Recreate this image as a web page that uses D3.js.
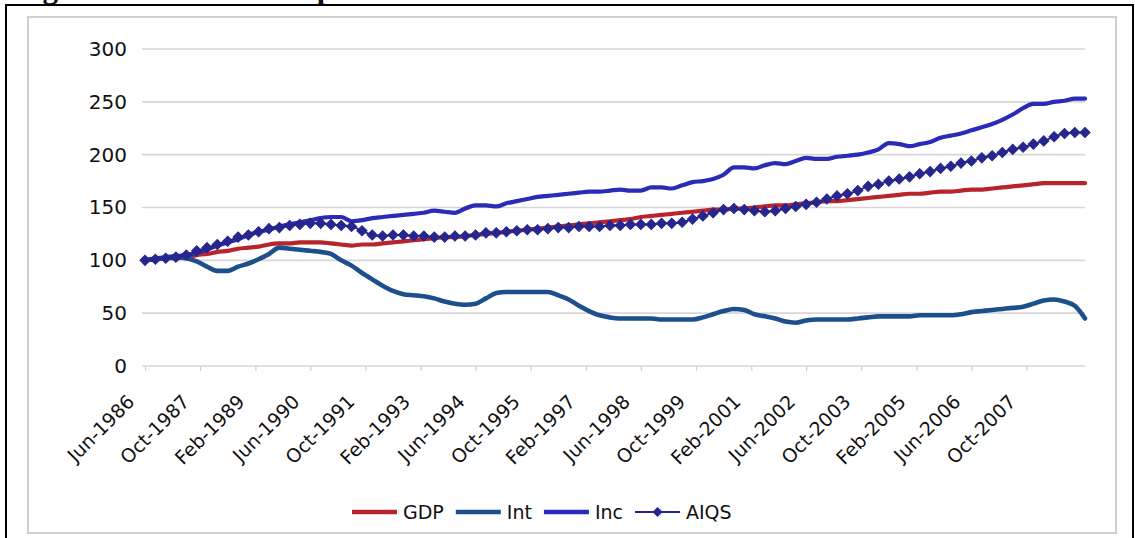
<!DOCTYPE html>
<html>
<head>
<meta charset="utf-8">
<script src="https://cdn.jsdelivr.net/npm/d3@7"></script>
<style>
  html, body { margin: 0; padding: 0; background: #fff; }
  svg { display: block; }
  text { font-family: "DejaVu Sans", "Open Sans", sans-serif; fill: #111; }
</style>
</head>
<body>
<svg id="chart" width="1135" height="538"></svg>
<script>
// Quarterly index series, June 1986 = 100
const firstQuarter = "Jun-1986";

const gdp = [
  100, 101, 102, 102, 103, 105, 106, 108, 109, 111,
  112, 113, 115, 116, 116, 117, 117, 117, 116, 115,
  114, 115, 115, 116, 117, 118, 119, 120, 121, 122,
  122, 123, 124, 125, 126, 127, 128, 129, 130, 131,
  132, 133, 134, 135, 136, 137, 138, 139, 141, 142,
  143, 144, 145, 146, 147, 148, 148, 149, 149, 150,
  151, 152, 152, 153, 154, 155, 156, 156, 157, 158,
  159, 160, 161, 162, 163, 163, 164, 165, 165, 166,
  167, 167, 168, 169, 170, 171, 172, 173, 173, 173,
  173, 173
];

const intRate = [
  100, 101, 102, 103, 102,  99,  94,  90,  90,  94,
   97, 101, 106, 112, 111, 110, 109, 108, 106, 100,
   95,  88,  82,  76,  71,  68,  67,  66,  64,  61,
   59,  58,  59,  64,  69,  70,  70,  70,  70,  70,
   67,  63,  57,  52,  48,  46,  45,  45,  45,  45,
   44,  44,  44,  44,  46,  49,  52,  54,  53,  49,
   47,  45,  42,  41,  43,  44,  44,  44,  44,  45,
   46,  47,  47,  47,  47,  48,  48,  48,  48,  49,
   51,  52,  53,  54,  55,  56,  59,  62,  63,  61,
   57,  45
];

const inc = [
  100, 102, 103, 104, 105, 107, 110, 114, 117, 120,
  124, 127, 129, 132, 134, 136, 138, 140, 141, 141,
  137, 138, 140, 141, 142, 143, 144, 145, 147, 146,
  145, 149, 152, 152, 151, 154, 156, 158, 160, 161,
  162, 163, 164, 165, 165, 166, 167, 166, 166, 169,
  169, 168, 171, 174, 175, 177, 181, 188, 188, 187,
  190, 192, 191, 194, 197, 196, 196, 198, 199, 200,
  202, 205, 211, 210, 208, 210, 212, 216, 218, 220,
  223, 226, 229, 233, 238, 244, 248, 248, 250, 251,
  253, 253
];

const aiqs = [
  100, 101, 102, 103, 105, 109, 112, 115, 118, 122,
  124, 127, 130, 131, 133, 134, 135, 135, 134, 133,
  132, 128, 124, 123, 124, 124, 123, 123, 122, 122,
  123, 123, 124, 126, 126, 127, 128, 129, 129, 130,
  131, 131, 132, 132, 132, 133, 133, 134, 134, 134,
  135, 135, 136, 139, 142, 145, 148, 149, 148, 147,
  146, 147, 149, 151, 153, 155, 158, 161, 163, 166,
  170, 172, 175, 177, 179, 182, 184, 187, 189, 192,
  194, 197, 199, 202, 205, 207, 210, 213, 217, 220,
  221, 221
];

const seriesNames = ["GDP", "Int", "Inc", "AIQS"];
const seriesColors = ["#b8242c", "#1d4f8c", "#2b2bb8", "#26268e"];
const yTicks = [0, 50, 100, 150, 200, 250, 300];
const xTickLabels = [
  "Jun-1986", "Oct-1987", "Feb-1989", "Jun-1990", "Oct-1991", "Feb-1993",
  "Jun-1994", "Oct-1995", "Feb-1997", "Jun-1998", "Oct-1999", "Feb-2001",
  "Jun-2002", "Oct-2003", "Feb-2005", "Jun-2006", "Oct-2007"
];
const figureTitle = "Figure 10: Indices comparison";

const parseMonth = d3.timeParse("%b-%Y");
const start = parseMonth(firstQuarter);
const dates = gdp.map((_, i) => d3.timeMonth.offset(start, 3 * i));

const svg = d3.select("#chart");

// Figure caption sitting above the frame (only its descenders fall inside the page)
svg.append("text")
  .attr("x", 15).attr("y", -2)
  .style("font-family", '"Liberation Serif", "DejaVu Serif", serif')
  .style("font-weight", "bold")
  .style("font-size", "31px")
  .attr("fill", "#000")
  .text(figureTitle);

// Outer frame and chart box
svg.append("rect")
  .attr("x", 6).attr("y", 5).attr("width", 1127).attr("height", 540)
  .attr("fill", "none").attr("stroke", "#000").attr("stroke-width", 2);
svg.append("rect")
  .attr("x", 28).attr("y", 17).attr("width", 1088).attr("height", 516)
  .attr("fill", "#fff").attr("stroke", "#cfcfcf").attr("stroke-width", 2);

const plot = { left: 145, right: 1085, top: 49, bottom: 366 };

const x = d3.scaleTime()
  .domain([dates[0], dates[dates.length - 1]])
  .range([plot.left, plot.right]);

const y = d3.scaleLinear()
  .domain([0, 300])
  .range([plot.bottom, plot.top]);

// Horizontal gridlines
svg.append("g")
  .selectAll("line")
  .data(yTicks)
  .join("line")
  .attr("x1", plot.left - 3).attr("x2", plot.right)
  .attr("y1", d => y(d)).attr("y2", d => y(d))
  .attr("stroke", "#d6d6d6").attr("stroke-width", 1.6);

// Y axis labels
const yAxis = d3.axisLeft(y).tickValues(yTicks).tickSize(0).tickPadding(18);
svg.append("g")
  .attr("transform", `translate(${plot.left},0)`)
  .call(yAxis)
  .call(g => g.select(".domain").remove())
  .call(g => g.selectAll("text")
    .style("font-family", '"DejaVu Sans", sans-serif')
    .style("font-size", "20px")
    .attr("fill", "#111"));

// X axis: date ticks every 16 months, rotated labels
const xTickDates = xTickLabels.map(parseMonth);
const xAxis = d3.axisBottom(x)
  .tickValues(xTickDates)
  .tickSize(5)
  .tickFormat((d, i) => xTickLabels[i]);
svg.append("g")
  .attr("transform", `translate(0,${plot.bottom})`)
  .call(xAxis)
  .call(g => g.select(".domain").remove())
  .call(g => g.selectAll(".tick line").attr("stroke", "#cfcfcf").attr("stroke-width", 1.2))
  .call(g => g.selectAll("text")
    .style("font-family", '"DejaVu Sans", sans-serif')
    .style("font-size", "19px")
    .attr("fill", "#111")
    .attr("text-anchor", "end")
    .attr("dy", null)
    .attr("y", 0)
    .attr("transform", "translate(-10,37) rotate(-45)"));

// Series lines
const series = [gdp, intRate, inc, aiqs];
const widths = [4.2, 4.6, 4.2, 2];
const line = d3.line()
  .x((d, i) => x(dates[i]))
  .y(d => y(d))
  .curve(d3.curveMonotoneX);

series.forEach((values, k) => {
  svg.append("path")
    .datum(values)
    .attr("d", line)
    .attr("fill", "none")
    .attr("stroke", seriesColors[k])
    .attr("stroke-width", widths[k])
    .attr("stroke-linejoin", "round")
    .attr("stroke-linecap", "round");
});

// Diamond markers on AIQS
const diamond = d3.symbol().type(d3.symbolSquare).size(52);
svg.append("g")
  .selectAll("path")
  .data(aiqs)
  .join("path")
  .attr("d", diamond)
  .attr("transform", (d, i) => `translate(${x(dates[i])},${y(d)}) rotate(45)`)
  .attr("fill", seriesColors[3])
  .attr("stroke", seriesColors[3])
  .attr("stroke-width", 1);

// Legend
const legend = svg.append("g").attr("transform", "translate(0,512)");
let cursor = 352;
seriesNames.forEach((name, k) => {
  const item = legend.append("g").attr("transform", `translate(${cursor},0)`);
  item.append("line")
    .attr("x1", 0).attr("x2", 45).attr("y1", 0).attr("y2", 0)
    .attr("stroke", seriesColors[k])
    .attr("stroke-width", k === 3 ? 2 : 4.5);
  if (k === 3) {
    item.append("path")
      .attr("d", diamond)
      .attr("transform", "translate(22.5,0) rotate(45)")
      .attr("fill", seriesColors[k]);
  }
  const t = item.append("text")
    .attr("x", 51).attr("y", 7)
    .style("font-size", "19px")
    .text(name);
  cursor += 51 + t.node().getComputedTextLength() + 12;
});
</script>
</body>
</html>
